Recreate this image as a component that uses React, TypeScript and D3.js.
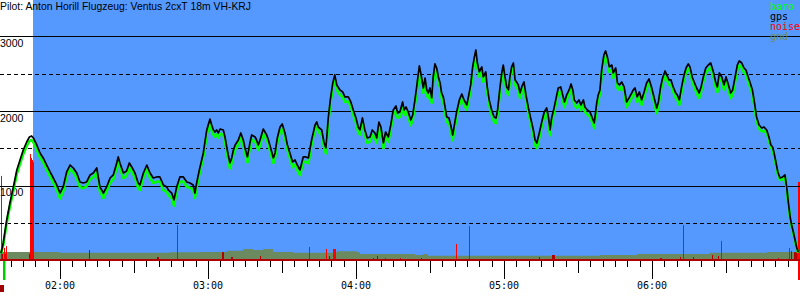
import React from "react";
import * as d3 from "d3";

// ---- data (time in minutes after midnight, altitude in metres) ----
const times = [
  96.1, 97.0, 98.4, 99.7, 101.1, 102.5, 103.8, 105.1, 106.5, 107.6, 108.5, 109.2, 110.6, 111.9, 113.2, 114.6, 116.0, 117.3, 118.7, 120.0,
  121.3, 122.7, 124.1, 125.4, 126.8, 128.1, 129.4, 130.8, 132.2, 133.5, 134.9, 135.5, 136.2, 137.6, 138.9, 140.3, 141.6, 143.0, 143.6, 144.3,
  145.7, 147.0, 148.1, 149.1, 150.4, 151.7, 152.4, 153.8, 155.2, 156.5, 157.8, 159.2, 160.5, 161.9, 163.3, 163.9, 165.3, 166.2, 167.3, 168.6,
  170.0, 171.4, 172.7, 174.0, 174.7, 175.4, 176.5,
  178.1, 179.5, 180.8, 181.5, 182.2, 182.8, 183.5, 184.2, 184.9, 186.2, 186.9, 187.6, 188.2, 188.9, 189.6, 190.3, 191.0, 192.3, 193.3, 194.3,
  195.0, 196.0, 197.0, 197.7, 199.1, 199.7, 200.4, 201.1, 202.4, 203.8, 204.5, 205.4, 206.5, 207.2, 208.1, 209.2, 210.1, 211.2, 212.2, 213.2,
  214.3, 215.3, 216.2, 217.3, 218.6, 219.7, 220.7, 222.0, 223.4, 224.1, 224.7, 226.1, 227.0, 227.8, 228.8, 229.7, 230.6, 231.4, 232.2, 233.5,
  234.6, 235.5, 236.9, 237.9, 238.9, 240.0, 240.9, 241.6, 242.6, 243.6, 244.6, 245.7, 246.6, 247.7, 248.4, 249.3, 250.1, 251.1, 252.0, 253.1,
  254.1, 255.1, 256.2, 256.9,
  257.8, 258.9, 259.5, 260.3, 261.2, 262.2, 263.0, 263.9, 264.6, 265.3, 265.7, 266.4, 267.3, 268.0, 268.7, 269.3, 270.0, 270.7, 271.3, 272.0,
  272.7, 273.4, 274.1, 274.7, 275.4, 276.1, 276.8, 277.7, 278.4, 279.2, 279.9, 280.8, 281.9, 282.9, 283.8, 284.9, 285.5, 286.5, 287.3, 288.0,
  288.6, 289.2, 290.0, 291.0, 291.6, 292.6, 293.2, 294.0, 295.0, 296.0, 296.8, 297.4, 298.4, 299.1, 299.7, 300.4, 301.1, 301.8, 302.4, 303.1,
  303.8, 304.5, 305.1, 305.8, 306.5, 307.2, 308.1, 308.9, 309.9, 310.8, 311.9, 312.6, 313.3, 314.3, 315.3, 316.3, 317.3, 318.0, 318.7, 319.3,
  320.3, 321.4, 322.0, 323.0, 323.8, 324.5, 325.4, 326.4, 327.2, 327.9, 328.5, 329.5, 330.4, 331.2, 332.2, 332.8, 333.8, 334.9, 335.8, 336.6,
  337.6, 338.2,
  338.9, 339.6, 340.5, 341.2, 341.9, 342.7, 343.7, 344.3, 345.3, 346.0, 346.8, 347.7, 348.7, 349.7, 350.7, 351.8, 352.4, 353.1, 354.0, 354.9,
  355.8, 356.8, 357.8, 358.8, 359.9, 360.9, 361.9, 362.6, 363.5, 364.3, 365.3, 366.0, 366.9, 367.7, 368.6, 369.6, 370.3, 371.1, 372.0, 373.0,
  373.8, 374.7, 375.4, 376.3, 377.1, 378.1, 379.1, 379.9, 380.8, 381.8, 382.8, 383.8, 384.9, 385.8, 386.5, 387.3, 388.3, 389.2, 390.0, 391.0,
  391.9, 392.7, 393.7, 394.6, 395.4, 396.4, 397.3, 398.1, 399.0, 399.7, 400.7, 401.5, 402.4, 403.4, 404.5, 405.4, 406.5, 407.4, 408.2, 408.9,
  409.5, 410.3, 411.0, 411.9, 413.0, 413.9, 414.6, 415.3, 416.0, 416.6, 417.3, 418.0, 418.7, 419.3,
];

const gpsAlt = [
  107, 241, 549, 777, 991, 1218, 1352, 1486, 1593, 1660, 1674, 1647, 1553, 1446, 1379, 1285, 1192, 1111, 1018, 910,
  991, 1192, 1285, 1245, 1178, 1058, 1044, 1058, 1152, 1178, 1245, 1125, 991, 910, 991, 1111, 1152, 1312, 1393, 1312,
  1178, 1205, 1312, 1259, 1178, 1044, 1018, 1178, 1285, 1178, 1111, 1125, 1125, 1018, 991, 951, 910, 817, 991, 1125,
  1125, 1058, 1044, 1018, 910, 1044, 1218,
  1446, 1754, 1901, 1821, 1754, 1727, 1754, 1714, 1767, 1754, 1660, 1526, 1419, 1312, 1379, 1486, 1553, 1620, 1714, 1620,
  1513, 1393, 1580, 1687, 1660, 1620, 1553, 1620, 1767, 1687, 1620, 1513, 1379, 1446, 1647, 1794, 1834, 1714, 1553, 1446,
  1326, 1352, 1285, 1218, 1393, 1393, 1379, 1620, 1821, 1861, 1794, 1754, 1593, 1513, 1928, 2183, 2383, 2491, 2357, 2290,
  2263, 2196, 2196, 2129, 2022, 1915, 1794, 1754, 1915, 1754, 1647, 1660, 1754, 1714, 1647, 1861, 1794, 1580, 1727, 1660,
  1821, 2022, 2075, 1982,
  1995, 2129, 2022, 2062, 1995, 1888, 1955, 2156, 2330, 2517, 2611, 2491, 2316, 2450, 2290, 2250, 2316, 2183, 2464, 2638,
  2584, 2464, 2383, 2250, 2196, 2062, 1928, 1915, 1821, 1687, 1821, 1995, 2156, 2236, 2156, 2089, 2183, 2357, 2598, 2732,
  2825, 2651, 2531, 2598, 2464, 2531, 2330, 2156, 2022, 1928, 1915, 2022, 2330, 2517, 2624, 2464, 2330, 2290, 2464, 2598,
  2651, 2424, 2397, 2357, 2250, 2330, 2397, 2223, 2049, 1915, 1754, 1620, 1580, 1714, 1861, 1995, 2049, 1928, 1754, 1915,
  2049, 2223, 2316, 2330, 2223, 2129, 2223, 2290, 2370, 2290, 2156, 2116, 2156, 2089, 2156, 2062, 2022, 1995, 1915, 1848,
  2116, 2223,
  2290, 2557, 2758, 2812, 2732, 2598, 2624, 2517, 2584, 2383, 2357, 2397, 2330, 2129, 2183, 2250, 2290, 2316, 2196, 2263,
  2156, 2263, 2383, 2437, 2316, 2183, 2049, 2129, 2330, 2450, 2544, 2491, 2424, 2424, 2330, 2250, 2223, 2156, 2330, 2491,
  2584, 2638, 2598, 2464, 2397, 2316, 2250, 2330, 2464, 2584, 2624, 2651, 2531, 2397, 2330, 2517, 2464, 2357, 2464, 2357,
  2250, 2290, 2464, 2624, 2678, 2651, 2584, 2557, 2464, 2397, 2290, 2129, 1928, 1821, 1781, 1794, 1754, 1660, 1553, 1526,
  1446, 1312, 1192, 1111, 1125, 1152, 991, 777, 589, 482, 388, 281, 174, 121,
];

const baroAlt = [
  100, 215, 510, 730, 940, 1165, 1300, 1430, 1540, 1605, 1620, 1590, 1490, 1385, 1320, 1225, 1130, 1050, 955, 835,
  930, 1135, 1230, 1185, 1115, 990, 975, 1000, 1095, 1120, 1185, 1060, 930, 840, 930, 1050, 1090, 1250, 1330, 1245,
  1110, 1140, 1250, 1195, 1115, 975, 950, 1115, 1225, 1110, 1045, 1060, 1065, 950, 925, 880, 840, 740, 925, 1060,
  1065, 995, 980, 955, 845, 980, 1160,
  1390, 1690, 1840, 1750, 1690, 1665, 1695, 1650, 1705, 1690, 1595, 1460, 1350, 1240, 1315, 1425, 1490, 1560, 1650, 1555,
  1450, 1320, 1515, 1625, 1595, 1560, 1485, 1555, 1705, 1625, 1555, 1445, 1310, 1380, 1585, 1735, 1770, 1650, 1490, 1380,
  1255, 1290, 1215, 1150, 1330, 1325, 1310, 1560, 1760, 1800, 1730, 1690, 1530, 1440, 1870, 2120, 2320, 2430, 2290, 2225,
  2195, 2130, 2135, 2065, 1955, 1850, 1725, 1690, 1855, 1690, 1580, 1600, 1690, 1650, 1580, 1800, 1730, 1510, 1665, 1595,
  1760, 1960, 2010, 1915,
  1930, 2065, 1955, 2000, 1930, 1820, 1890, 2095, 2265, 2455, 2550, 2425, 2250, 2385, 2220, 2180, 2250, 2115, 2400, 2575,
  2520, 2400, 2315, 2185, 2130, 1995, 1860, 1850, 1750, 1615, 1755, 1930, 2095, 2175, 2090, 2025, 2120, 2295, 2535, 2670,
  2765, 2585, 2465, 2535, 2395, 2470, 2265, 2090, 1955, 1860, 1845, 1960, 2270, 2455, 2565, 2400, 2265, 2225, 2400, 2535,
  2590, 2360, 2330, 2290, 2180, 2265, 2335, 2155, 1985, 1850, 1690, 1550, 1510, 1650, 1800, 1935, 1985, 1860, 1685, 1850,
  1985, 2160, 2255, 2265, 2160, 2060, 2160, 2225, 2305, 2225, 2090, 2050, 2090, 2020, 2095, 1995, 1960, 1930, 1850, 1780,
  2050, 2160,
  2225, 2495, 2695, 2750, 2670, 2530, 2560, 2450, 2520, 2315, 2290, 2335, 2265, 2060, 2120, 2185, 2225, 2250, 2130, 2200,
  2090, 2200, 2320, 2375, 2250, 2115, 1980, 2065, 2265, 2390, 2480, 2430, 2360, 2360, 2265, 2185, 2155, 2090, 2265, 2430,
  2520, 2575, 2535, 2400, 2330, 2250, 2180, 2265, 2400, 2520, 2560, 2590, 2465, 2330, 2260, 2455, 2400, 2290, 2400, 2290,
  2180, 2225, 2400, 2560, 2620, 2590, 2520, 2495, 2400, 2335, 2230, 2070, 1875, 1770, 1735, 1745, 1710, 1620, 1515, 1490,
  1410, 1280, 1160, 1085, 1095, 1125, 965, 755, 570, 465, 370, 265, 160, 110,
];

const groundTimes = [95.7, 120.0, 148.4, 164.6, 176.8, 187.7, 194.2, 198.3, 202.3, 206.4, 214.5, 230.7, 232.3, 240.4, 241.6, 263.9, 267.2, 269.2, 338.9, 353.9, 383.5, 406.6, 420.0];
const groundAlt = [120, 112, 112, 118, 120, 138, 160, 147, 160, 120, 111, 118, 130, 118, 94, 80, 94, 71, 80, 94, 111, 120, 120];

const noiseTimes = [
  96.1, 96.5, 97.3, 97.7, 98.1, 107.4, 107.8, 108.2, 108.6, 109.1, 131.8, 159.3, 159.7, 167.4, 185.7, 186.1, 189.3, 189.7, 194.6, 201.1,
  221.0, 227.8, 229.1, 230.7, 231.1, 231.5, 246.9, 248.5, 251.8, 253.8, 254.6, 257.8, 266.4, 270.8, 280.5, 285.8, 287.4, 304.5, 314.2, 319.5,
  319.9, 320.3, 321.9, 330.4, 343.8, 356.8, 363.2, 363.6, 371.4, 372.6, 376.6, 384.3, 386.8, 388.0, 393.2, 411.1, 415.5, 416.4, 417.6, 418.0,
  418.4, 418.8, 419.2, 419.6,
];
const noiseLevel = [
  326, 27, 50, 27, 57, 27, 410, 395, 387, 379, 42, 15, 15, 138, 34, 34, 15, 15, 8, 19,
  54, 46, 19, 46, 46, 46, 11, 19, 11, 8, 8, 11, 11, 8, 65, 134, 8, 8, 15, 23,
  23, 23, 8, 8, 8, 8, 11, 11, 15, 138, 15, 23, 19, 77, 8, 11, 50, 38, 34, 34,
  34, 54, 303, 303,
];

const releaseTime = 109.1;
const takeoffTime = 97.2;
const landingTime = 419.6;

const yGridValues = [500, 1000, 1500, 2000, 2500, 3000];
const yLabelValues = [1000, 2000, 3000];

const titleText = "Pilot: Anton Horill Flugzeug: Ventus 2cxT 18m VH-KRJ";
const legendLabels = ["baro", "gps", "noise", "gnd"];
const legendColors = ["#00ff00", "#000000", "#ff0000", "#6f8a5e"];

// ---- layout ----
const W = 800;
const H = 300;
const AXIS_Y = 261;

export default function App() {
  const x = d3.scaleLinear().domain([95.68, 420]).range([0, W]);
  const y = d3.scaleLinear().domain([0, 3494]).range([AXIS_Y, 0]);
  const ny = d3.scaleLinear().domain([0, 1000]).range([AXIS_Y, 0]);

  const idx = d3.range(times.length);
  const gpsLine = d3.line<number>().x((i) => x(times[i])).y((i) => y(gpsAlt[i]));
  const baroLine = d3.line<number>().x((i) => x(times[i])).y((i) => y(baroAlt[i]));
  const gIdx = d3.range(groundTimes.length);
  const groundArea = d3
    .area<number>()
    .curve(d3.curveStepAfter)
    .x((i) => x(groundTimes[i]))
    .y0(AXIS_Y)
    .y1((i) => y(groundAlt[i]));

  const tickMinutes = d3.range(Math.ceil(95.68 / 5) * 5, 420.01, 5);
  const crisp = (v: number) => Math.round(v) + 0.5;
  const fmt = (m: number) => {
    const h = Math.floor(m / 60);
    return (h < 10 ? "0" : "") + h + ":00";
  };

  return (
    <svg
      width={W}
      height={H}
      style={{ position: "absolute", left: 0, top: 0, display: "block", background: "#ffffff" }}
    >
      <rect x={Math.round(x(releaseTime))} y={0} width={W - Math.round(x(releaseTime))} height={AXIS_Y} fill="#5599ff" />
      <path d={groundArea(gIdx) || ""} fill="#6b8a60" />
      {noiseTimes.map((t, i) => (
        <rect
          key={"n" + i}
          x={Math.round(x(t))}
          y={ny(noiseLevel[i])}
          width={1}
          height={AXIS_Y - ny(noiseLevel[i])}
          fill={noiseLevel[i] >= 45 ? "#ff0000" : "#b00000"}
        />
      ))}
      {yGridValues.map((v) => (
        <line
          key={"g" + v}
          x1={0}
          x2={W}
          y1={crisp(y(v) - 0.5)}
          y2={crisp(y(v) - 0.5)}
          stroke="#000"
          strokeWidth={1}
          strokeDasharray={v % 1000 === 0 ? undefined : "4,3"}
        />
      ))}
      {yLabelValues.map((v) => (
        <text
          key={"yl" + v}
          x={0}
          y={Math.round(y(v)) + 10}
          fontFamily="'Liberation Sans', Arial, sans-serif"
          fontSize={10.5}
          fill="#000"
        >
          {v}
        </text>
      ))}
      <path d={baroLine(idx) || ""} fill="none" stroke="#00ff00" strokeWidth={2.6} strokeLinejoin="round" />
      <path d={gpsLine(idx) || ""} fill="none" stroke="#000000" strokeWidth={1.7} strokeLinejoin="round" />
      <rect x={0} y={AXIS_Y - 2} width={W} height={2} fill="#b00000" />
      {tickMinutes.map((m) => {
        const len = m % 60 === 0 ? 18 : m % 30 === 0 ? 12 : 6;
        return (
          <line key={"t" + m} x1={crisp(x(m))} x2={crisp(x(m))} y1={AXIS_Y} y2={AXIS_Y + len} stroke="#000" strokeWidth={1} />
        );
      })}
      {tickMinutes
        .filter((m) => m % 60 === 0 && x(m) + 16 < W)
        .map((m) => (
          <text
            key={"xl" + m}
            x={x(m)}
            y={289}
            textAnchor="middle"
            fontFamily="'DejaVu Sans Mono', monospace"
            fontSize={10}
            fill="#000"
          >
            {fmt(m)}
          </text>
        ))}
      <rect x={Math.round(x(takeoffTime)) - 1} y={AXIS_Y} width={2.5} height={19} fill="#00cc00" />
      <rect x={Math.round(x(takeoffTime)) - 4} y={285} width={4} height={7} fill="#a00000" />
      <rect x={Math.round(x(landingTime)) - 1} y={AXIS_Y} width={3} height={19} fill="#ff0000" />
      <rect x={Math.round(x(landingTime)) + 1} y={285} width={4} height={7} fill="#a00000" />
      <text x={0} y={10} fontFamily="'Liberation Sans', Arial, sans-serif" fontSize={10.4} fill="#000">
        {titleText}
      </text>
      {legendLabels.map((l, i) => (
        <text
          key={"lg" + l}
          x={770}
          y={10 + i * 10}
          fontFamily="'DejaVu Sans Mono', monospace"
          fontSize={10}
          fill={legendColors[i]}
        >
          {l}
        </text>
      ))}
    </svg>
  );
}
